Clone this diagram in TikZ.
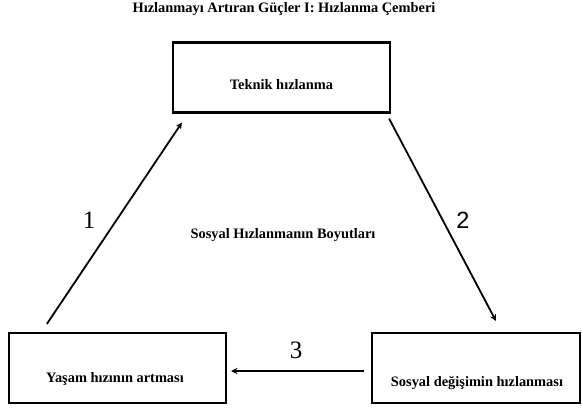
\documentclass[tikz,border=0pt]{standalone}
\usepackage{fontspec}
\setmainfont{Liberation Serif}
\newfontfamily\ikiyazi{Liberation Sans}
\begin{document}
\begin{tikzpicture}[x=1pt, y=-1pt, thick,
	kutu/.style={draw, line width=2.2pt, minimum width=217pt, minimum height=70pt, inner sep=0pt},
	yazi/.style={anchor=base, font=\fontsize{14.4}{16}\selectfont\bfseries},
	sayi/.style={anchor=base, font=\fontsize{25}{28}\selectfont},
	ok/.style={->, >=stealth, line width=1.8pt}]
			\useasboundingbox (0,0) rectangle (582,410);
			%title
			\node (baslik) at (284, 12.5) [yazi]{Hızlanmayı Artıran Güçler I: Hızlanma Çemberi};
			
			%boxes
			\node (teknik) at (281.5, 77.5) [kutu]{};
			\node (yasam) at (117.5, 368) [kutu]{};
			\node (sosyal) at (476, 368) [kutu, minimum width=208pt]{};
			\node (teknikyazi) at (281.5, 89) [yazi]{Teknik hızlanma};
			\node (yasamyazi) at (115, 382) [yazi]{Yaşam hızının artması};
			\node (sosyalyazi) at (477, 386) [yazi]{Sosyal değişimin hızlanması};
			\node (boyut) at (283, 238) [yazi]{Sosyal Hızlanmanın Boyutları};
			
			%arrows
			\draw[ok] ([xshift=39pt, yshift=8pt]yasam.north west) -- ([xshift=10pt, yshift=-9pt]teknik.south west);
			\draw[ok] ([xshift=-2pt, yshift=-5pt]teknik.south east) -- ([xshift=125pt, yshift=11pt]sosyal.north west);
			\draw[ok] ([xshift=-7pt, yshift=-3pt]sosyal.west) -- ([xshift=4pt, yshift=-3pt]yasam.east);
			\node (bir) at (89, 228) [sayi]{1};
			\node (iki) at (463, 228) [sayi, font=\fontsize{23.5}{28}\selectfont\ikiyazi]{2};
			\node (uc) at (296, 358) [sayi]{3};
		\end{tikzpicture}
\end{document}
